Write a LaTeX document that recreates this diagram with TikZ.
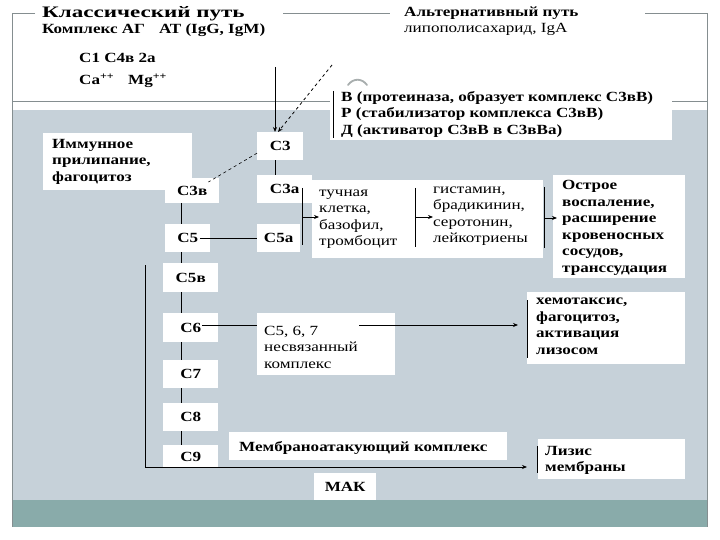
\documentclass[tikz,border=0pt]{standalone}
\usepackage{graphicx}
\usepackage{fontspec}
\setmainfont[FakeStretch=1.22]{Liberation Serif}
\usetikzlibrary{arrows.meta}
\definecolor{bggray}{HTML}{C6D1D9}
\definecolor{tealbar}{HTML}{89ABAA}
\definecolor{framec}{HTML}{858E90}
\definecolor{arcc}{HTML}{A8AEAE}
\newcommand{\fsz}{\fontsize{14}{16.5}\selectfont}
\newcommand{\fbig}{\fontsize{16}{16.5}\selectfont}
\begin{document}
\begin{tikzpicture}[x=1pt,y=-1pt,
  wbox/.style={fill=white, draw=none, inner sep=0pt, anchor=north west, font=\bfseries\fsz},
  txt/.style={inner sep=0pt, anchor=west, align=left, font=\bfseries\fsz},
  rtxt/.style={inner sep=0pt, anchor=west, align=left, font=\fsz},
  conn/.style={draw=black, line width=0.8pt},
  arr/.style={conn, -{Stealth[length=5pt,width=4pt]}},
  fr/.style={draw=framec, line width=0.8pt}
]
\useasboundingbox (0,0) rectangle (720,540);
\fill[white] (0,0) rectangle (720,540);
% backgrounds
\fill[bggray] (12,110) rectangle (707,500);
\fill[tealbar] (12,500) rectangle (707,527);
% frame
\draw[fr] (35,13) -- (12,13) -- (12,527);
\draw[fr] (283,13) -- (390,13);
\draw[fr] (645,13) -- (707,13) -- (707,527);
\draw[fr] (12,101) -- (707,101);

% top texts
\node[txt, font=\bfseries\fbig] (classic) at (42,14) {\scalebox{1.18}[1]{Классический путь}};
\node[txt] (agat) at (42,30) {Комплекс АГ\quad АТ (IgG, IgM)};
\node[txt] (c1) at (79,58) {C1 C4в 2а};
\node[txt] (camg) at (79,81) {Ca\textsuperscript{++}\quad Mg\textsuperscript{++}};
\node[txt] (altern) at (404,13) {Альтернативный путь};
\node[rtxt] (lps) at (404,29) {липополисахарид, IgA};
\draw[arcc, line width=1.8pt, line cap=round] (348,85) .. controls (353,78) and (362,78) .. (367,85);

% boxes
\node[wbox, minimum width=342pt, minimum height=52pt] (bdr) at (330,88) {};
\node[txt] (bdrt) at ([xshift=11pt]bdr.west) {В (протеиназа, образует комплекс С3вВ)\\Р (стабилизатор комплекса С3вВ)\\Д (активатор С3вВ в С3вВа)};
\draw[conn] ([xshift=3pt,yshift=-3pt]bdr.north west) -- ([xshift=3pt,yshift=2pt]bdr.south west);

\node[wbox, minimum width=149pt, minimum height=57pt] (imm) at (43,133) {};
\node[txt] (immt) at ([xshift=9pt]imm.west) {Иммунное\\прилипание,\\фагоцитоз};

\node[wbox, minimum width=46pt, minimum height=28pt] (c3) at (257,132) {C3};
\node[wbox, minimum width=55pt, minimum height=28pt] (c3a) at (257,175) {C3а};
\node[wbox, minimum width=54pt, minimum height=25pt] (c3b) at (165,178) {C3в};
\node[wbox, minimum width=45pt, minimum height=28pt] (c5) at (165,224) {C5};
\node[wbox, minimum width=43pt, minimum height=28pt] (c5a) at (257,224) {C5а};

\node[wbox, minimum width=231pt, minimum height=78pt] (mid) at (312,180) {};
\node[rtxt] (tuch) at (319,219) {тучная\\клетка,\\базофил,\\тромбоцит};
\node[rtxt] (hist) at (433,216) {гистамин,\\брадикинин,\\серотонин,\\лейкотриены};

\node[wbox, minimum width=132pt, minimum height=103pt] (acute) at (553,175) {};
\node[txt] (acutet) at ([xshift=9pt,yshift=-1pt]acute.west) {Острое\\воспаление,\\расширение\\кровеносных\\сосудов,\\транссудация};

\node[wbox, minimum width=55pt, minimum height=29pt] (c5b) at (163,263) {C5в};
\node[wbox, minimum width=55pt, minimum height=29pt] (c6) at (163,313) {C6};
\node[wbox, minimum width=55pt, minimum height=28pt] (c7) at (163,360) {C7};
\node[wbox, minimum width=55pt, minimum height=28pt] (c8) at (163,403) {C8};
\node[wbox, minimum width=55pt, minimum height=23pt] (c9) at (163,445) {C9};

\node[wbox, minimum width=138pt, minimum height=62pt] (c567) at (257,313) {};
\node[rtxt] (c567t) at ([xshift=7pt,yshift=-3pt]c567.west) {C5, 6, 7\\несвязанный\\комплекс};

\node[wbox, minimum width=158pt, minimum height=72pt] (chem) at (527,292) {};
\node[txt] (chemt) at ([xshift=9pt,yshift=2pt]chem.west) {хемотаксис,\\фагоцитоз,\\активация\\лизосом};

\node[wbox, minimum width=278pt, minimum height=28pt] (memb) at (229,432) {};
\node[txt] (membt) at ([xshift=10pt,yshift=-2pt]memb.west) {Мембраноатакующий комплекс};

\node[wbox, minimum width=62pt, minimum height=27pt] (mak) at (314,473) {МАК};

\node[wbox, minimum width=147pt, minimum height=40pt] (lys) at (538,439) {};
\node[txt] (lyst) at ([xshift=7pt,yshift=-1pt]lys.west) {Лизис\\мембраны};

% connectors
\coordinate (cl) at (275,67);
\coordinate (al) at (332,65);
\draw[arr] (cl) -- (cl |- c3.north);
\draw[arr, dashed] (al) -- ([xshift=3pt]cl |- c3.north);
\draw[conn] (cl |- c3.south) -- (cl |- c3a.north);
\draw[conn, dashed, line width=0.6pt] ([yshift=-7pt]c3.west) -- ([xshift=-11pt,yshift=-4pt]c3b.north east);
\coordinate (vx) at (181,0);
\draw[conn] (vx |- c3b.south) -- (vx |- c5.north);
\draw[conn] ([xshift=-10pt]c5.east) -- (c5a.west);
\draw[conn] (vx |- c5.south) -- (vx |- c5b.north);
\draw[conn] (vx |- c5b.south) -- (vx |- c6.north);
\draw[conn] (vx |- c6.south) -- (vx |- c7.north);
\draw[conn] (vx |- c7.south) -- (vx |- c8.north);
\draw[conn] (vx |- c8.south) -- (vx |- c9.north);

% bracket 1
\coordinate (b1t) at (302,188);
\coordinate (b1b) at (302,245);
\coordinate (b1m) at (302,217);
\draw[conn] (b1t) -- (b1b);
\draw[arr] (b1m) -- (b1m -| tuch.west);
% bracket 2
\coordinate (b2t) at (415,188);
\coordinate (b2b) at (415,247);
\coordinate (b2m) at (415,217);
\draw[conn] (b2t) -- (b2b);
\draw[arr] (b2m) -- (b2m -| hist.west);
% bracket 3
\coordinate (b3t) at (544,187);
\coordinate (b3b) at (544,248);
\coordinate (b3m) at (544,218);
\draw[conn] (b3t) -- (b3b);
\draw[arr] (b3m) -- ([xshift=4pt]b3m -| acute.west);

% C6 line and arrow to chem
\coordinate (l6) at (202,325);
\draw[conn] (l6) -- (l6 -| c567.west);
\coordinate (l7) at (359,325);
\draw[arr] (l7) -- ([xshift=-9pt]l7 -| chem.west);
\draw[conn] ([yshift=-8pt]chem.north west) -- ([yshift=6pt]chem.south west);

% left bracket to lysis
\coordinate (lb) at (145,265);
\coordinate (lt) at (527,467);
\draw[arr] (lb) |- (lt);
\draw[conn] ([xshift=-1pt,yshift=-7pt]lys.north west) -- ([xshift=-1pt,yshift=6pt]lys.south west);
\end{tikzpicture}
\end{document}
